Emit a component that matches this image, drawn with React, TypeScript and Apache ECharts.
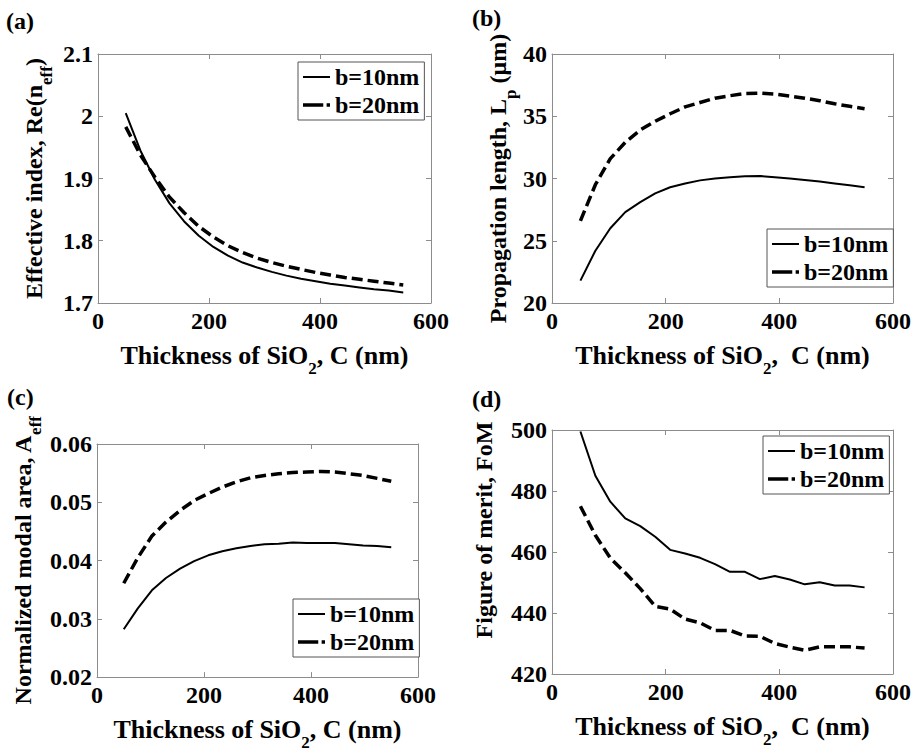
import React, { useEffect, useRef } from 'react';
import * as echarts from 'echarts';

// ---- data ----
const thickness = [50, 76.3, 102.6, 128.9, 155.3, 181.6, 207.9, 234.2, 260.5, 286.8, 313.2, 339.5, 365.8, 392.1, 418.4, 444.7, 471.1, 497.4, 523.7, 550];

const neffB10 = [2.005, 1.945, 1.898, 1.86, 1.831, 1.808, 1.79, 1.776, 1.765, 1.757, 1.75, 1.744, 1.739, 1.735, 1.731, 1.728, 1.725, 1.722, 1.72, 1.717];
const neffB20 = [1.983, 1.938, 1.902, 1.87, 1.845, 1.823, 1.806, 1.792, 1.781, 1.772, 1.765, 1.759, 1.754, 1.749, 1.745, 1.741, 1.738, 1.735, 1.732, 1.729];

const lpB10 = [21.8, 24.2, 26.0, 27.3, 28.1, 28.8, 29.3, 29.6, 29.85, 30.0, 30.1, 30.18, 30.2, 30.1, 30.0, 29.88, 29.75, 29.6, 29.45, 29.3];
const lpB20 = [26.6, 29.5, 31.6, 32.9, 33.9, 34.6, 35.2, 35.75, 36.1, 36.45, 36.65, 36.82, 36.85, 36.78, 36.62, 36.45, 36.25, 36.0, 35.8, 35.6];

const aeffB10 = [0.0282, 0.0318, 0.0349, 0.037, 0.0386, 0.0399, 0.0409, 0.0416, 0.0421, 0.0425, 0.0428, 0.0429, 0.0431, 0.043, 0.043, 0.043, 0.0428, 0.0426, 0.0425, 0.0423];
const aeffB20 = [0.0361, 0.0405, 0.0442, 0.0466, 0.0486, 0.0503, 0.0515, 0.0526, 0.0535, 0.0542, 0.0546, 0.0549, 0.0551, 0.0552, 0.0553, 0.0552, 0.0549, 0.0546, 0.0541, 0.0536];

const fomB10 = [499.5, 485, 476.5, 471, 468.5, 465, 460.7, 459.5, 458.1, 456, 453.5, 453.5, 451.1, 452.1, 451, 449.4, 450.1, 449, 449, 448.4];
const fomB20 = [475, 465.5, 458, 453.2, 448, 442.2, 441.3, 438, 436.8, 434.3, 434.3, 432.5, 432.4, 430, 428.8, 427.8, 428.9, 428.9, 428.9, 428.5];

const seriesNames = ['b=10nm', 'b=20nm'];
const panelLabels = ['(a)', '(b)', '(c)', '(d)'];
const xTitleA = 'Thickness of SiO{sub|2}, C (nm)';
const xTitleB = 'Thickness of SiO{sub|2},  C (nm)';
const yTitles = [
  'Effective index, Re(n{sub|eff})',
  'Propagation length, L{sub|p} (μm)',
  'Normalized modal area, A{sub|eff}',
  'Figure of merit, FoM',
];

const FONT = '"Liberation Serif", "Times New Roman", Times, serif';
const AXIS_COLOR = '#8c8c8c';

const zip = (xs: number[], ys: number[]) => xs.map((x, i) => [x, ys[i]]);

export default function App() {
  const ref = useRef<HTMLDivElement>(null);

  useEffect(() => {
    if (!ref.current) return;
    const chart = echarts.init(ref.current, null, { renderer: 'svg' });

    const subStyle = {
      fontFamily: FONT,
      fontWeight: 'bold',
      fontSize: 17,
      color: '#000',
      verticalAlign: 'bottom',
      lineHeight: 17,
    };

    const panels = [
      {
        grid: [98, 54, 333, 249], y: [1.7, 2.1, 0.1], yName: yTitles[0], yGap: 43, yPad: 0,
        xName: xTitleA, xGap: 21, legend: [298, 62], label: [6, 9], d: [neffB10, neffB20],
      },
      {
        grid: [552, 54, 341, 249], y: [20, 40, 5], yName: yTitles[1], yGap: 33, yPad: 0,
        xName: xTitleB, xGap: 21, legend: [767, 229], label: [472, 6], d: [lpB10, lpB20],
      },
      {
        grid: [96, 444, 322, 246], y: [0.02, 0.06, 0.01], yName: yTitles[2], yGap: 53, yPad: 0,
        xName: xTitleA, xGap: 19, legend: [293, 599], label: [7, 385], d: [aeffB10, aeffB20],
      },
      {
        grid: [552, 430, 341, 244], y: [420, 500, 20], yName: yTitles[3], yGap: 47, yPad: 44,
        xName: xTitleB, xGap: 25, legend: [763, 436], label: [472, 387], d: [fomB10, fomB20],
      },
    ];

    const solidIcon = 'path://M0,6H27V8H0Z';
    const dashIcon = 'path://M0,5.5H18V8.5H0Z M21,5.5H24V8.5H21Z';

    const grid: any[] = [];
    const xAxis: any[] = [];
    const yAxis: any[] = [];
    const series: any[] = [];
    const legend: any[] = [];
    const title: any[] = [];

    const axisCommon = {
      axisLine: { show: true, onZero: false, lineStyle: { color: AXIS_COLOR, width: 1 } },
      axisTick: { show: true, inside: true, length: 5, lineStyle: { color: AXIS_COLOR, width: 1 } },
      splitLine: { show: false },
    };
    const labelStyle = { fontFamily: FONT, fontSize: 24, fontWeight: 'bold', color: '#000' };

    panels.forEach((p, i) => {
      grid.push({ left: p.grid[0], top: p.grid[1], width: p.grid[2], height: p.grid[3], containLabel: false });

      xAxis.push({
        type: 'value', gridIndex: i, min: 0, max: 600, interval: 200, position: 'bottom',
        ...axisCommon,
        axisLabel: { ...labelStyle, margin: 6 },
        name: p.xName, nameLocation: 'middle', nameGap: p.xGap,
        nameTextStyle: {
          fontFamily: FONT, fontSize: 26, fontWeight: 'bold', color: '#000', lineHeight: 43,
          rich: { sub: subStyle },
        },
      });
      xAxis.push({
        type: 'value', gridIndex: i, min: 0, max: 600, interval: 200, position: 'top',
        ...axisCommon, axisLabel: { show: false },
      });

      yAxis.push({
        type: 'value', gridIndex: i, min: p.y[0], max: p.y[1], interval: p.y[2], position: 'left',
        ...axisCommon,
        axisLabel: { ...labelStyle, margin: 5 },
        name: p.yName, nameLocation: 'middle', nameRotate: 90, nameGap: p.yGap,
        nameTextStyle: {
          fontFamily: FONT, fontSize: 24, fontWeight: 'bold', color: '#000', lineHeight: 43,
          padding: [0, 0, 0, p.yPad],
          rich: { sub: subStyle },
        },
      });
      yAxis.push({
        type: 'value', gridIndex: i, min: p.y[0], max: p.y[1], interval: p.y[2], position: 'right',
        ...axisCommon, axisLabel: { show: false },
      });

      series.push({
        type: 'line', name: seriesNames[0], xAxisIndex: 2 * i, yAxisIndex: 2 * i,
        data: zip(thickness, p.d[0]), symbol: 'none', silent: true,
        lineStyle: { color: '#000', width: 2 }, itemStyle: { color: '#000' },
      });
      series.push({
        type: 'line', name: seriesNames[1], xAxisIndex: 2 * i, yAxisIndex: 2 * i,
        data: zip(thickness, p.d[1]), symbol: 'none', silent: true,
        lineStyle: { color: '#000', width: 3.5, type: [11, 5] }, itemStyle: { color: '#000' },
      });

      legend.push({
        data: [
          { name: seriesNames[0], icon: solidIcon },
          { name: seriesNames[1], icon: dashIcon },
        ],
        orient: 'vertical', left: p.legend[0], top: p.legend[1],
        padding: [3, 5, 3, 5], itemGap: 4, itemWidth: 27, itemHeight: 14,
        borderColor: '#555', borderWidth: 1, backgroundColor: '#fff', selectedMode: false,
        itemStyle: { color: '#000', borderWidth: 0 },
        lineStyle: { inactiveWidth: 0 },
        textStyle: { fontFamily: FONT, fontSize: 24, fontWeight: 'bold', color: '#000' },
      });

      title.push({
        text: panelLabels[i], left: p.label[0], top: p.label[1], padding: 0,
        textStyle: { fontFamily: FONT, fontSize: 24, fontWeight: 'bold', color: '#000' },
      });
    });

    chart.setOption({
      animation: false,
      backgroundColor: '#fff',
      title, grid, xAxis, yAxis, series, legend,
    });

    return () => chart.dispose();
  }, []);

  return (
    <div
      ref={ref}
      style={{ position: 'fixed', left: 0, top: 0, width: 918, height: 752, background: '#fff' }}
    />
  );
}
